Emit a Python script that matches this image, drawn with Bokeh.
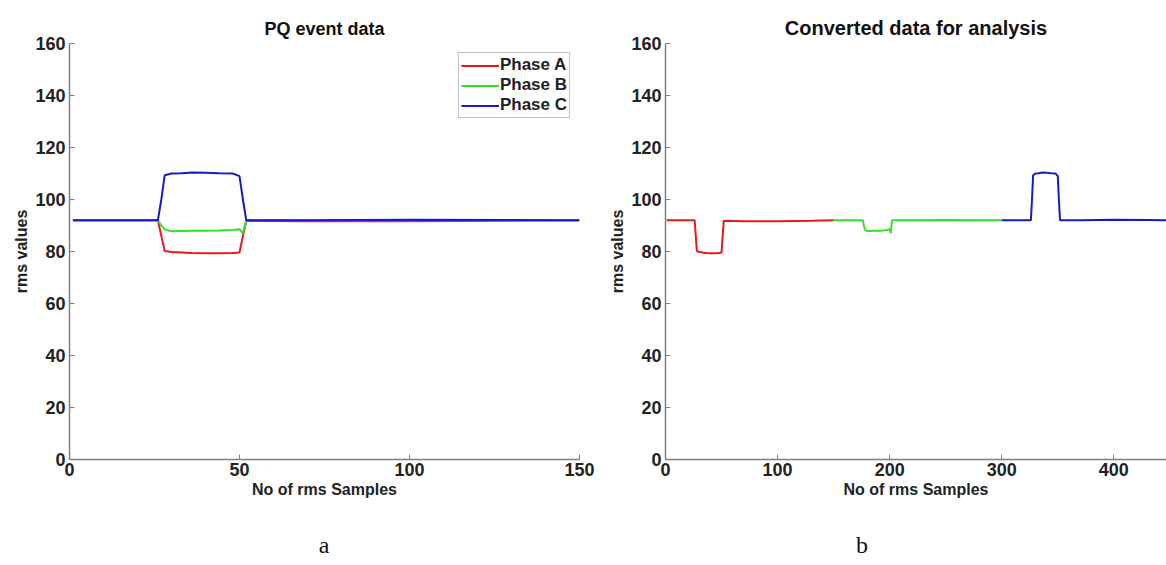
from bokeh.plotting import figure
from bokeh.layouts import row, column
from bokeh.models import Legend, LegendItem, Range1d, FixedTicker, Div
from bokeh.embed import file_html
from bokeh.resources import INLINE

# ---- data ----
samples = [1, 26, 27, 28, 30, 33, 36, 40, 44, 48, 50, 51, 52, 70, 100, 130, 150]
phase_a = [92.0, 92.0, 86.0, 80.2, 79.8, 79.6, 79.4, 79.3, 79.3, 79.4, 79.6, 86.0, 91.8, 91.6, 91.6, 91.8, 92.0]
phase_b = [92.0, 92.0, 90.0, 88.5, 87.8, 87.9, 88.0, 88.0, 88.1, 88.3, 88.6, 87.0, 92.0, 92.0, 92.1, 92.0, 92.0]
phase_c = [92.0, 92.0, 100.0, 109.3, 110.0, 110.1, 110.4, 110.3, 110.1, 110.0, 109.0, 100.0, 92.0, 92.0, 92.2, 92.1, 92.0]
series_names = ["Phase A", "Phase B", "Phase C"]
series_colors = ["#e8191b", "#2fe02f", "#1a1ac2"]
left_xticks = [0, 50, 100, 150]
right_xticks = [0, 100, 200, 300, 400]
yticks = [0, 20, 40, 60, 80, 100, 120, 140, 160]
panel_letters = ["a", "b"]
n_samples = 150

FONT = "Liberation Sans"
TXT = "#222222"
AXC = "#808080"


def style(p, xticks):
    p.grid.visible = False
    p.outline_line_color = None
    p.background_fill_color = "white"
    p.border_fill_color = "white"
    for ax in (p.xaxis[0], p.yaxis[0]):
        ax.axis_line_color = AXC
        ax.axis_line_width = 1.5
        ax.major_tick_line_color = AXC
        ax.major_tick_in = 5
        ax.major_tick_out = 0
        ax.minor_tick_line_color = None
        ax.major_label_text_font = FONT
        ax.major_label_text_font_style = "bold"
        ax.major_label_text_font_size = "18px"
        ax.major_label_text_color = TXT
        ax.axis_label_text_font = FONT
        ax.axis_label_text_font_style = "bold"
        ax.axis_label_text_font_size = "16px"
        ax.axis_label_text_color = TXT
        ax.axis_label_standoff = 2
    p.xaxis[0].major_label_standoff = 3
    p.yaxis[0].major_label_standoff = 4
    p.xaxis[0].ticker = FixedTicker(ticks=xticks)
    p.yaxis[0].ticker = FixedTicker(ticks=yticks)
    p.xaxis[0].axis_label = "No of rms Samples"
    p.yaxis[0].axis_label = "rms values"
    p.title.text_font = FONT
    p.title.text_font_style = "bold"
    p.title.text_font_size = "18px"
    p.title.text_color = "#111111"
    p.title.align = "center"


# ---- left panel ----
p1 = figure(width=595, height=510, x_range=Range1d(0, 150), y_range=Range1d(0, 160),
            output_backend="svg", toolbar_location=None, title="PQ event data",
            min_border_left=69, min_border_right=16, min_border_top=43, min_border_bottom=51)
style(p1, left_xticks)
renderers = []
for ys, col in zip([phase_a, phase_b, phase_c], series_colors):
    renderers.append(p1.line(samples, ys, line_color=col, line_width=2))
legend = Legend(items=[LegendItem(label=n, renderers=[r]) for n, r in zip(series_names, renderers)],
                location="top_right", border_line_color="#888888", border_line_width=1,
                label_text_font=FONT, label_text_font_style="bold", label_text_font_size="17px",
                label_text_color=TXT, glyph_width=38, glyph_height=15, label_height=15,
                label_standoff=1, spacing=-2, padding=2, margin=9)
p1.add_layout(legend)

# ---- right panel ----
p2 = figure(width=571, height=510, x_range=Range1d(0, 447), y_range=Range1d(0, 160),
            output_backend="svg", toolbar_location=None, title="Converted data for analysis",
            min_border_left=70, min_border_right=0, min_border_top=43, min_border_bottom=51)
style(p2, right_xticks)
p2.title.text_font_size = "20px"
for k, (ys, col) in enumerate(zip([phase_a, phase_b, phase_c], series_colors)):
    xs = [s + k * n_samples for s in samples]
    if k > 0:
        prev = [phase_a, phase_b, phase_c][k - 1]
        xs = [k * n_samples] + xs
        ys = [prev[-1]] + list(ys)
    p2.line(xs, ys, line_color=col, line_width=2)

# ---- panel letters under the charts ----
letter_x = [324, 862]
spans = "".join(
    f'<span style="position:absolute;left:{x}px;top:35px;transform:translate(-50%,-50%);">{t}</span>'
    for t, x in zip(panel_letters, letter_x))
letters = Div(text=f'<div style="position:relative;width:1166px;height:55px;'
                   f'font-family:\'Liberation Serif\';font-size:24px;color:#111;line-height:1;">{spans}</div>',
              width=1166, height=55, margin=(0, 0, 0, 0))

layout = column(row(p1, p2, spacing=0), letters, spacing=0)
open("out.html", "w").write(file_html(layout, INLINE))
